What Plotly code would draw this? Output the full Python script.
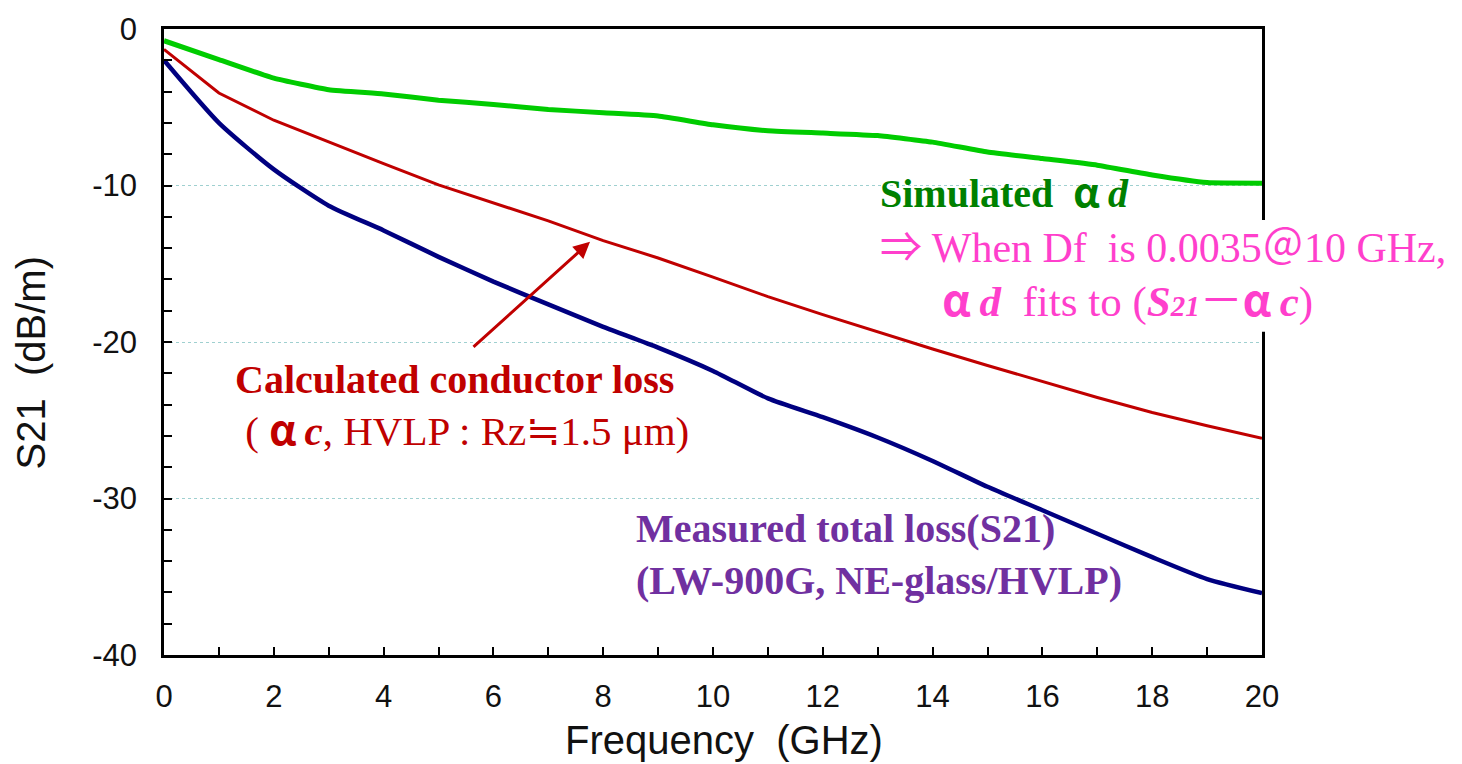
import plotly.graph_objects as go

# Frequency points (GHz)
freq_ghz = [0, 1, 2, 3, 4, 5, 6, 7, 8, 9, 10, 11, 12, 13, 14, 15, 16, 17, 18, 19, 20]

# Simulated dielectric loss (alpha_d), dB/m
simulated_ad = [-0.75, -1.95, -3.14, -3.88, -4.15, -4.55, -4.82, -5.14, -5.35, -5.56,
                -6.12, -6.5, -6.65, -6.81, -7.23, -7.86, -8.28, -8.7, -9.33, -9.81, -9.85]

# Calculated conductor loss (alpha_c), dB/m
conductor_ac = [-1.3, -4.09, -5.83, -7.23, -8.6, -9.96, -11.1, -12.26, -13.52, -14.63,
                -15.85, -17.1, -18.25, -19.35, -20.45, -21.5, -22.55, -23.55, -24.5, -25.35, -26.15]

# Measured total loss S21, dB/m
measured_s21 = [-2.0, -6.0, -8.97, -11.29, -12.87, -14.56, -16.14, -17.6, -19.03, -20.36,
                -21.85, -23.6, -24.8, -26.1, -27.6, -29.25, -30.75, -32.25, -33.75, -35.15, -36.05]

# Axis ticks
x_tickvals = [0, 2, 4, 6, 8, 10, 12, 14, 16, 18, 20]
x_ticktext = ["0", "2", "4", "6", "8", "10", "12", "14", "16", "18", "20"]
y_tickvals = [-40, -30, -20, -10, 0]
y_ticktext = ["-40", "-30", "-20", "-10", "0"]

SERIF = "Liberation Serif, Times New Roman, serif"
SANS = "Liberation Sans, Arial, sans-serif"
CJK = "Noto Sans CJK JP"


def cjk(ch, bold=True):
    s = f'<span style="font-family:{CJK}">{ch}</span>'
    return f"<b>{s}</b>" if bold else s


ALPHA = cjk("α")
nb = "\u00a0"
thin = "\u2009"

fig = go.Figure()

fig.add_trace(go.Scatter(
    x=freq_ghz, y=simulated_ad, mode="lines",
    line=dict(color="#00CC00", width=5, shape="spline", smoothing=0.4),
    showlegend=False, hoverinfo="skip"))
fig.add_trace(go.Scatter(
    x=freq_ghz, y=conductor_ac, mode="lines",
    line=dict(color="#C00000", width=3),
    showlegend=False, hoverinfo="skip"))
fig.add_trace(go.Scatter(
    x=freq_ghz, y=measured_s21, mode="lines",
    line=dict(color="#000080", width=4.5, shape="spline", smoothing=0.6),
    showlegend=False, hoverinfo="skip"))

# note on the simulated dielectric loss (green heading + pink explanation)
sim_note = (
    "<span style='color:#008000;font-size:40px'><b>Simulated" + nb * 2 + "</b>"
    + ALPHA + thin + "<b><i>d</i></b></span><br>"
    + cjk("⇒", bold=False) + " When Df" + nb * 2 + "is 0.0035" + cjk("＠", bold=False) + "10 GHz,<br>"
    + "<span style='font-size:43px'>" + nb * 5 + thin
    + ALPHA + thin + "<b><i>d</i></b>" + nb * 2
    + "fits to (<b><i>S<span style='font-size:29px'>21</span></i></b>"
    + cjk("－", bold=False) + ALPHA + thin + "<b><i>c</i></b>)</span>"
)

# note on the conductor loss curve
cond_note = (
    "<b>Calculated conductor loss</b><br>"
    + "<span style='font-size:41px'>" + nb + "(" + nb + ALPHA + thin + "<b><i>c</i></b>, HVLP : Rz"
    + cjk("≒", bold=False) + "1.5 μm)</span>"
)

meas_note = "<b>Measured total loss(S21)<br>(LW-900G, NE-glass/HVLP)</b>"

annotations = [
    # arrow pointing at the conductor-loss curve
    dict(x=7.76, y=-13.6, ax=5.61, ay=-20.4, xref="x", yref="y", axref="x", ayref="y",
         text="", showarrow=True, arrowhead=2, arrowsize=1.1, arrowwidth=3,
         arrowcolor="#C00000"),
    dict(x=13.0, y=-13.75, xref="x", yref="y", xanchor="left", yanchor="middle",
         text=sim_note, showarrow=False, align="left",
         font=dict(family=SERIF, size=42, color="#FF3FCC")),
    dict(x=1.26, y=-24.15, xref="x", yref="y", xanchor="left", yanchor="middle",
         text=cond_note, showarrow=False, align="left",
         font=dict(family=SERIF, size=40, color="#C00000")),
    dict(x=8.56, y=-33.55, xref="x", yref="y", xanchor="left", yanchor="middle",
         text=meas_note, showarrow=False, align="left",
         font=dict(family=SERIF, size=40, color="#7030A0")),
    # axis titles
    dict(x=0.51, y=-0.136, xref="paper", yref="paper", xanchor="center", yanchor="middle",
         text="Frequency" + nb * 2 + "(GHz)", showarrow=False,
         font=dict(family=SANS, size=40, color="#111111")),
    dict(x=-0.121, y=0.466, xref="paper", yref="paper", xanchor="center", yanchor="middle",
         text="S21" + nb * 2 + "(dB/m)", showarrow=False, textangle=-90,
         font=dict(family=SANS, size=40, color="#111111")),
]

# white panel behind the pink note, interrupting the right frame
shapes = [
    dict(type="rect", xref="paper", yref="paper", layer="above",
         x0=0.99, x1=1.03, y0=(655.5 - 328) / 634, y1=(655.5 - 215) / 634,
         fillcolor="white", line=dict(width=0)),
]

fig.update_layout(
    width=1462, height=764,
    margin=dict(l=164, r=200, t=21, b=109),
    paper_bgcolor="white", plot_bgcolor="white",
    annotations=annotations, shapes=shapes,
    showlegend=False,
)

fig.update_xaxes(
    range=[0, 20], tickmode="array", tickvals=x_tickvals, ticktext=x_ticktext,
    ticks="inside", ticklen=8, tickwidth=1.5, tickcolor="black",
    showline=True, linewidth=2.5, linecolor="black", mirror=True,
    showgrid=False, zeroline=False, ticklabelstandoff=12,
    tickfont=dict(family=SANS, size=31, color="#111111"),
    minor=dict(dtick=1, tick0=0, ticks="inside", ticklen=8, tickwidth=1.5,
               tickcolor="black", showgrid=False),
)
fig.update_yaxes(
    range=[-40, 0], tickmode="array", tickvals=y_tickvals, ticktext=y_ticktext,
    ticks="inside", ticklen=8, tickwidth=1.5, tickcolor="black",
    showline=True, linewidth=2.5, linecolor="black", mirror=True,
    showgrid=True, gridcolor="#9FD0D0", griddash="dot", gridwidth=1,
    zeroline=False, ticklabelstandoff=18,
    tickfont=dict(family=SANS, size=31, color="#111111"),
    minor=dict(dtick=2, tick0=0, ticks="inside", ticklen=8, tickwidth=1.5,
               tickcolor="black", showgrid=False),
)

fig.write_html("out.html")
